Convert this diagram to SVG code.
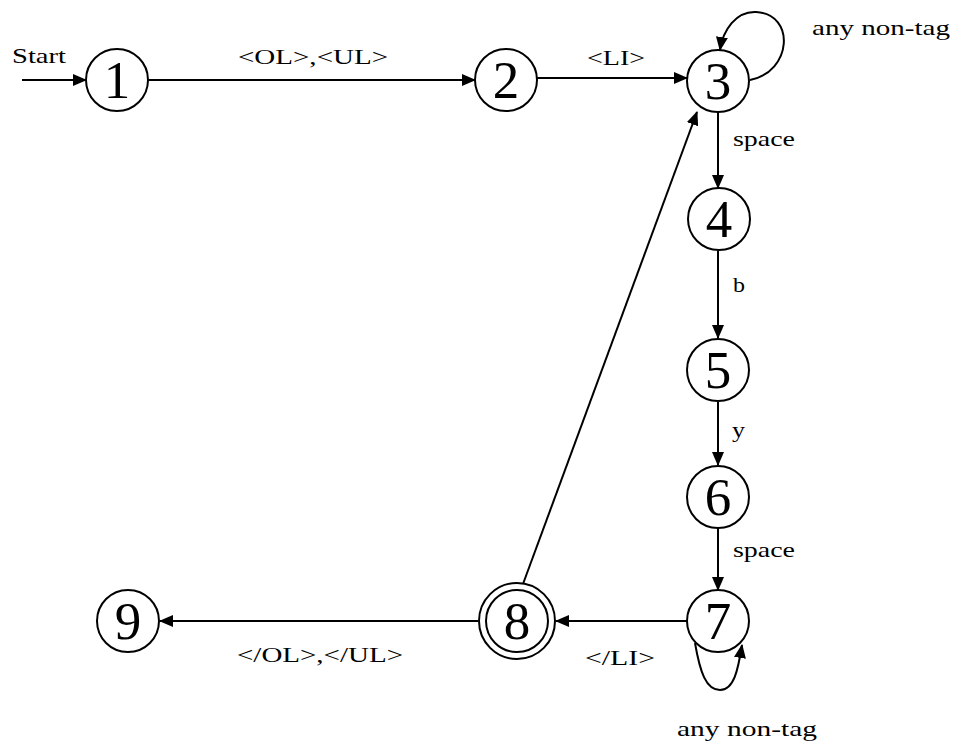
<svg xmlns="http://www.w3.org/2000/svg" width="957" height="747" viewBox="0 0 957 747">
  <style>
    .state { fill: #fff; stroke: #000; stroke-width: 2; }
    .num { font-family: "Liberation Serif", "Times New Roman", serif; font-size: 53px; text-anchor: middle; fill: #000; }
    .lbl { font-family: "Liberation Serif", "Times New Roman", serif; font-size: 22px; fill: #000; }
    .edge { fill: none; stroke: #000; stroke-width: 2; marker-end: url(#arrow); }
  </style>
  <defs>
    <marker id="arrow" markerUnits="userSpaceOnUse" markerWidth="14" markerHeight="12" refX="13" refY="6" orient="auto">
      <path d="M0,0 L14,6 L0,12 Z" fill="#000"/>
    </marker>
  </defs>
  <rect width="957" height="747" fill="#fff"/>

  <g id="connectors">
    <path class="edge" d="M22,80 L86,80"/>
    <text class="lbl" x="12" y="63" textLength="54" lengthAdjust="spacingAndGlyphs">Start</text>

    <path class="edge" d="M148,80 L475,80"/>
    <text class="lbl" x="238" y="64" textLength="150" lengthAdjust="spacingAndGlyphs">&lt;OL&gt;,&lt;UL&gt;</text>

    <path class="edge" d="M537,78 L687,78"/>
    <text class="lbl" x="587" y="65" textLength="58" lengthAdjust="spacingAndGlyphs">&lt;LI&gt;</text>

    <path class="edge" d="M750,80 C792,72 796,14 756,12 C736,11 723,30 720,50"/>
    <text class="lbl" x="812" y="35" textLength="138" lengthAdjust="spacingAndGlyphs">any non-tag</text>

    <path class="edge" d="M718,112 L718,188"/>
    <text class="lbl" x="733" y="146" textLength="62" lengthAdjust="spacingAndGlyphs">space</text>

    <path class="edge" d="M718,251 L718,338"/>
    <text class="lbl" x="733" y="292" textLength="12" lengthAdjust="spacingAndGlyphs">b</text>

    <path class="edge" d="M718,402 L718,465"/>
    <text class="lbl" x="732" y="437" textLength="13" lengthAdjust="spacingAndGlyphs">y</text>

    <path class="edge" d="M718,528 L718,590"/>
    <text class="lbl" x="733" y="557" textLength="62" lengthAdjust="spacingAndGlyphs">space</text>

    <path class="edge" d="M695,643 C700,672 706,690 720,690 C734,690 738,670 742,645"/>
    <text class="lbl" x="677" y="736" textLength="140" lengthAdjust="spacingAndGlyphs">any non-tag</text>

    <path class="edge" d="M687,621 L556,621"/>
    <text class="lbl" x="585" y="665" textLength="70" lengthAdjust="spacingAndGlyphs">&lt;/LI&gt;</text>

    <path class="edge" d="M478,621 L160,621"/>
    <text class="lbl" x="237" y="662" textLength="166" lengthAdjust="spacingAndGlyphs">&lt;/OL&gt;,&lt;/UL&gt;</text>

    <path class="edge" d="M523,584 L697,112"/>
  </g>

  <g id="node1"><circle class="state" cx="117" cy="80" r="31"/><text class="num" x="117" y="98">1</text></g>
  <g id="node2"><circle class="state" cx="506" cy="80" r="31"/><text class="num" x="506" y="98">2</text></g>
  <g id="node3"><circle class="state" cx="718" cy="81" r="31"/><text class="num" x="718" y="99">3</text></g>
  <g id="node4"><circle class="state" cx="719" cy="219" r="31"/><text class="num" x="719" y="237">4</text></g>
  <g id="node5"><circle class="state" cx="718" cy="370" r="31"/><text class="num" x="718" y="388">5</text></g>
  <g id="node6"><circle class="state" cx="718" cy="497" r="31"/><text class="num" x="718" y="515">6</text></g>
  <g id="node7"><circle class="state" cx="718" cy="621" r="31"/><text class="num" x="718" y="639">7</text></g>
  <g id="node8"><circle class="state" cx="517" cy="621" r="38"/><circle class="state" cx="517" cy="621" r="31"/><text class="num" x="517" y="639">8</text></g>
  <g id="node9"><circle class="state" cx="128" cy="621" r="31"/><text class="num" x="128" y="639">9</text></g>
</svg>
